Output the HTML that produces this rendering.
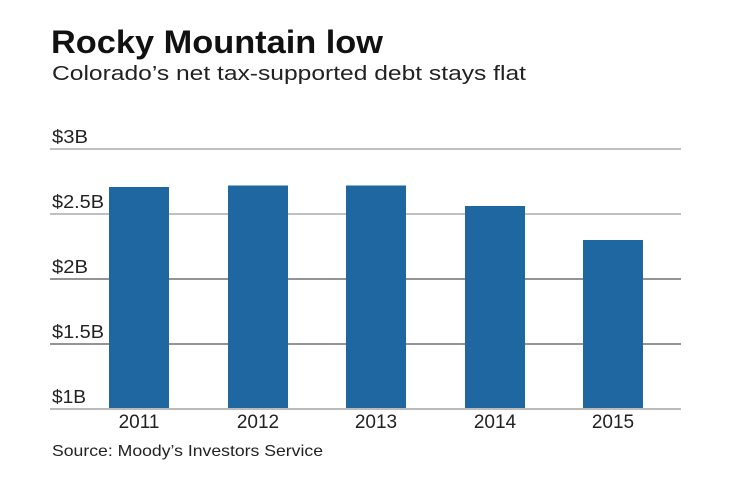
<!DOCTYPE html>
<html><head><style>
html,body{margin:0;padding:0;background:#fff;}
svg{display:block;font-family:"Liberation Sans",sans-serif;}
</style></head><body>
<svg width="740" height="482" viewBox="0 0 740 482">
<rect width="740" height="482" fill="#fff"/>
<text x="51" y="53" font-size="32" font-weight="bold" fill="#111" textLength="332" lengthAdjust="spacingAndGlyphs">Rocky Mountain low</text>
<text x="52" y="80" font-size="20" fill="#222" textLength="474" lengthAdjust="spacingAndGlyphs">Colorado’s net tax-supported debt stays flat</text>
<g stroke="#9a9a9a" stroke-width="1.3">
<line x1="50" y1="149" x2="681" y2="149"/>
<line x1="50" y1="214" x2="681" y2="214"/>
<line x1="50" y1="279" x2="681" y2="279" stroke="#555"/>
<line x1="50" y1="344" x2="681" y2="344" stroke="#555"/>
</g>
<g font-size="18" fill="#222">
<text x="52" y="143" textLength="36" lengthAdjust="spacingAndGlyphs">$3B</text>
<text x="52" y="208" textLength="52" lengthAdjust="spacingAndGlyphs">$2.5B</text>
<text x="52" y="273" textLength="36" lengthAdjust="spacingAndGlyphs">$2B</text>
<text x="52" y="338" textLength="52" lengthAdjust="spacingAndGlyphs">$1.5B</text>
<text x="52" y="403" textLength="34" lengthAdjust="spacingAndGlyphs">$1B</text>
</g>
<g fill="#1e67a0">
<rect x="109" y="187" width="60" height="222"/>
<rect x="228" y="185.5" width="60" height="223.5"/>
<rect x="346" y="185.5" width="60" height="223.5"/>
<rect x="465" y="206" width="60" height="203"/>
<rect x="583" y="240" width="60" height="169"/>
</g>
<line x1="50" y1="409" x2="681" y2="409" stroke="#bbb" stroke-width="2"/>
<g font-size="19" fill="#222" text-anchor="middle">
<text x="139" y="428">2011</text>
<text x="258" y="428">2012</text>
<text x="376" y="428">2013</text>
<text x="495" y="428">2014</text>
<text x="613" y="428">2015</text>
</g>
<text x="52" y="456" font-size="16" fill="#222" textLength="271" lengthAdjust="spacingAndGlyphs">Source: Moody’s Investors Service</text>
</svg>
</body></html>
